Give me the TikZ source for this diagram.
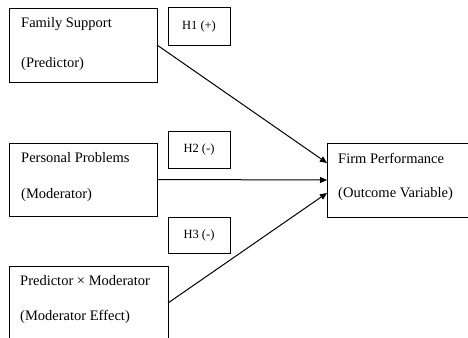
\documentclass[tikz,border=0pt]{standalone}
\usepackage{fontspec}
\setmainfont{Liberation Serif}
\usetikzlibrary{arrows.meta}
\begin{document}
\begin{tikzpicture}[x=1pt,y=-1pt,
  box/.style={draw, line width=0.9pt, inner sep=0pt, outer sep=0pt, anchor=north west},
  txt/.style={font=\fontsize{14.5}{17}\selectfont, anchor=base west, inner sep=0pt},
  hyp/.style={draw, line width=0.9pt, inner sep=0pt, outer sep=0pt, anchor=north west,
    minimum width=62pt, font=\fontsize{12.5}{15}\selectfont},
  conn/.style={line width=1pt, -{Triangle[length=7pt,width=6pt]}}]
\useasboundingbox (0,0) rectangle (468,337);
\clip (0,0) rectangle (468,337);
% boxes
\node[box, minimum width=148pt, minimum height=74pt] (fs) at (9,8) {};
\node[box, minimum width=148pt, minimum height=73pt] (pp) at (9,143) {};
\node[box, minimum width=159pt, minimum height=74pt] (pm) at (9,266) {};
\node[box, minimum width=155pt, minimum height=74pt] (fp) at (327,143) {};
\node[hyp, minimum height=38pt] (h1) at (168,7) {H1 (+)};
\node[hyp, minimum height=37pt] (h2) at (168,131) {H2 (-)};
\node[hyp, minimum height=36pt] (h3) at (168,217) {H3 (-)};
% texts
\node[txt] (fs1) at (21,28) {Family Support};
\node[txt] (fs2) at (21,67) {(Predictor)};
\node[txt] (pp1) at (21,162) {Personal Problems};
\node[txt] (pp2) at (21,198) {(Moderator)};
\node[txt] (pm1) at (20,285) {Predictor × Moderator};
\node[txt] (pm2) at (20,320) {(Moderator Effect)};
\node[txt] (fp1) at (338,163) {Firm Performance};
\node[txt] (fp2) at (338,197) {(Outcome Variable)};
% connectors
\draw[conn] (fs.east) -- ([yshift=17pt]fp.west);
\draw[conn] (pp.east) -- (fp.west);
\draw[conn] (pm.east) -- ([yshift=-13pt]fp.west);
\end{tikzpicture}
\end{document}
